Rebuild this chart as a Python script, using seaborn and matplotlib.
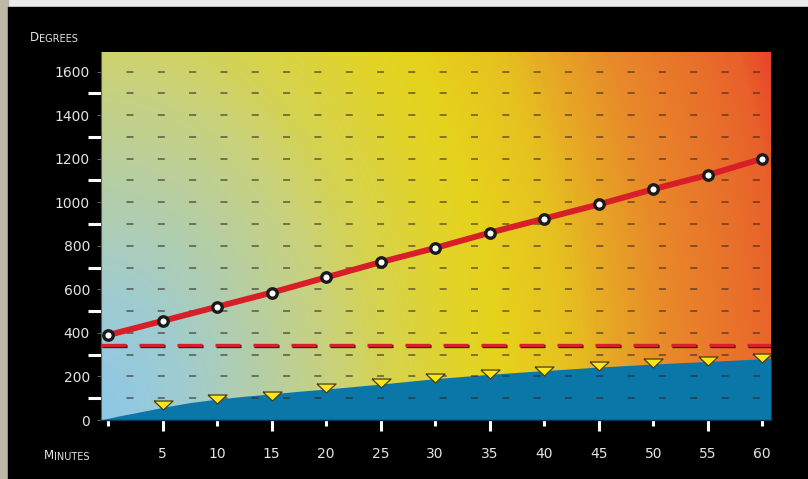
import numpy as np
import matplotlib
matplotlib.use("Agg")
import matplotlib.pyplot as plt
import matplotlib.patheffects as pe
from matplotlib.colors import LinearSegmentedColormap
from matplotlib.patches import Rectangle
from matplotlib.path import Path
import seaborn as sns

# values
minutes = [0, 5, 10, 15, 20, 25, 30, 35, 40, 45, 50, 55, 60]
temp_line = [390, 455, 520, 585, 655, 725, 790, 860, 925, 990, 1060, 1125, 1200]
tri_minutes = [5, 10, 15, 20, 25, 30, 35, 40, 45, 50, 55, 60]
tri_values = [67, 98, 112, 148, 170, 194, 212, 225, 248, 261, 271, 286]
area_minutes = [-0.65, 1, 2.5, 5, 7.5, 10, 12.5, 15, 17.5, 20, 25, 30, 35, 40,
                45, 50, 55, 60, 60.8]
area_values = [0, 19, 33, 58, 80, 96, 109, 120, 132, 142, 165, 190, 210, 227,
               243, 257, 269, 281, 284]
threshold = 345

x_ticks = minutes
x_labels = ["", "5", "10", "15", "20", "25", "30", "35", "40", "45", "50", "55", "60"]
y_ticks = [0, 200, 400, 600, 800, 1000, 1200, 1400, 1600]
y_minor = [100, 300, 500, 700, 900, 1100, 1300, 1500]
grid_rows = list(range(100, 1700, 100))

XMIN, XMAX, YMAX = -0.65, 60.8, 1690
TXT = "#e4e4e4"

sns.set_theme(style="white")
plt.rcParams["font.family"] = ["DejaVu Sans"]

fig = plt.figure(figsize=(8.08, 4.79), dpi=100, facecolor="#ebebea")
fig.patches.append(Rectangle((0, 0), 8 / 808, 1, transform=fig.transFigure,
                             color="#bdb7a8", zorder=-10))
fig.patches.append(Rectangle((8 / 808, 0), 1, 472 / 479, transform=fig.transFigure,
                             color="black", zorder=-10))

ax = fig.add_axes([101 / 808, 59 / 479, 670 / 808, 368 / 479])
ax.set_facecolor("none")

# elliptical heat gradient behind the plot, centred on the bottom-left corner
W, H = 670, 368
yy, xx = np.mgrid[0:H, 0:W]
r = np.hypot(xx, (H - yy) * 0.685)
r = r / r.max()
heat = LinearSegmentedColormap.from_list("heat", [
    (0.00, "#8cc8e8"), (0.12, "#a0ccd0"), (0.22, "#b4cea8"), (0.33, "#cad27a"),
    (0.40, "#d6d350"), (0.50, "#e2d42a"), (0.56, "#e6d21c"), (0.66, "#e6c020"),
    (0.72, "#e7a626"), (0.80, "#e8882a"), (0.90, "#e8702a"), (0.96, "#e8602a"),
    (1.00, "#e8442a")])
ax.imshow(heat(r), extent=(XMIN, XMAX, 0, YMAX), aspect="auto", origin="upper",
          zorder=0, interpolation="bilinear")

ax.fill_between(area_minutes, area_values, color="#0b76a8", lw=0, zorder=2)

for v in grid_rows:
    ax.axhline(v, xmin=3 / 670, xmax=1, color=(0.2, 0.15, 0.13), alpha=0.7,
               lw=1.1, ls=(5.8, (4.6, 15.9)), zorder=3)

ax.axhline(threshold, color="#d8202a", lw=2.4, ls=(0, (7.5, 3.9)), zorder=4,
           path_effects=[pe.SimpleLineShadow(offset=(0.7, -0.7), shadow_color="black",
                                             alpha=0.85), pe.Normal()])

sns.lineplot(x=minutes, y=temp_line, ax=ax, color="#d81e27", lw=4.3, marker="o",
             ms=6.8, mfc="white", mec="#1b1b1b", mew=2.4, zorder=5)

tri = Path([(-1, 0.47), (1, 0.47), (0, -0.47), (-1, 0.47)])
sns.scatterplot(x=tri_minutes, y=tri_values, ax=ax, marker=tri, s=188,
                color="#f8e818", edgecolor="#4a3c18", linewidth=0.9, zorder=6)

ax.set_xlim(XMIN, XMAX)
ax.set_ylim(0, YMAX)

ax.set_xticks(x_ticks)
ax.set_xticklabels(x_labels)
ax.set_yticks(y_ticks)
ax.set_yticklabels([str(v) for v in y_ticks])
ax.set_yticks(y_minor, minor=True)

ax.tick_params(axis="x", which="major", direction="out", length=4.3, width=2.2,
               color="white", pad=15, labelsize=10, labelcolor=TXT, bottom=True)
ax.tick_params(axis="y", which="major", direction="out", length=3, width=0.8,
               color="#5a5a5a", pad=5, labelsize=10, labelcolor=TXT, left=True)
ax.tick_params(axis="y", which="minor", direction="out", length=9.4, width=2.2,
               color="white", left=True)
for m, tick in zip(x_ticks, ax.xaxis.get_major_ticks()):
    if m % 10 == 5:
        tick.tick1line.set_markersize(8)

for side in ("top", "right"):
    ax.spines[side].set_visible(False)
ax.spines["left"].set_color("#6b5a36")
ax.spines["left"].set_linewidth(0.8)
ax.spines["bottom"].set_color("#0a3050")
ax.spines["bottom"].set_linewidth(1.0)

# small-caps style axis titles
t = fig.text(30 / 808, 1 - 41 / 479, "D", fontsize=8.5, color=TXT, va="baseline")
ax.annotate("EGREES", xy=(1, 0), xycoords=t, va="bottom", fontsize=7, color=TXT,
            annotation_clip=False)
t = fig.text(44 / 808, 1 - 459 / 479, "M", fontsize=8.5, color=TXT, va="baseline")
ax.annotate("INUTES", xy=(1, 0), xycoords=t, va="bottom", fontsize=7, color=TXT,
            annotation_clip=False)

fig.savefig("out.png", dpi=100, facecolor=fig.get_facecolor())
